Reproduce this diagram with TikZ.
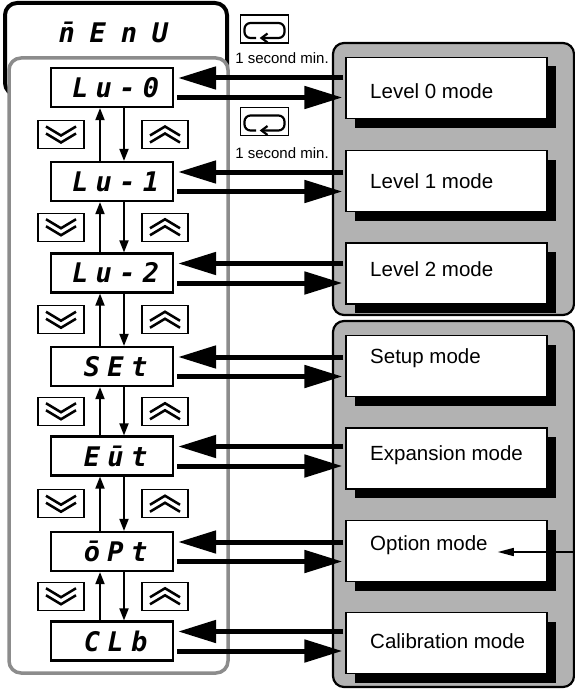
\documentclass[tikz,border=0pt]{standalone}
\usepackage{fontspec}
\setmainfont{Liberation Sans}
\newfontfamily\segfont[LetterSpace=27]{DejaVu Sans Mono}
\newfontfamily\menufont[LetterSpace=55]{DejaVu Sans Mono}
\newcommand\seg[1]{#1\kern-.27em}
\usetikzlibrary{arrows.meta,calc,shadows}

\tikzset{
  display/.style={draw, fill=white, line width=2.2pt, minimum width=122pt, minimum height=39pt, inner sep=0pt,
    font=\fontsize{27}{27}\segfont\bfseries\itshape},
  modebox/.style={draw, fill=white, line width=1.2pt, minimum width=201pt, minimum height=61pt,
    drop shadow={shadow xshift=9pt, shadow yshift=-9pt, fill=black, opacity=1}},
  modetext/.style={anchor=base west, inner sep=0pt, font=\fontsize{20.5}{24}\selectfont},
  keybox/.style={draw, fill=white, line width=1.4pt, minimum width=46pt, minimum height=28pt, inner sep=0pt},
  bigarrow/.style={line width=5pt, -{Triangle[length=38pt,width=22pt]}},
  updown/.style={line width=1.8pt, -{Triangle[length=12pt,width=9pt]}},
  panel/.style={draw, line width=2.2pt, fill=black!30, rounded corners=11pt},
  dnchev/.pic={\draw[line width=2.5pt] (-15,-8) -- (0,1) -- (15,-8) (-15,-1) -- (0,8) -- (15,-1);},
  upchev/.pic={\draw[line width=2.5pt] (-15,8) -- (0,-1) -- (15,8) (-15,1) -- (0,-8) -- (15,1);},
  loopkey/.pic={
    \draw[line width=2.2pt, rounded corners=6pt] (-8.5,9) -- (-20,9) -- (-20,-6) -- (20,-6) -- (20,9) -- (-3,9);
    \draw[line width=2.2pt] (3,4.5) -- (-3,9) -- (3,13.5);},
}

\begin{document}
\begin{tikzpicture}[x=1pt,y=-1pt]
  \useasboundingbox (0,0) rectangle (575,690);

  % menu frame on the left
  \draw[line width=4pt, rounded corners=12pt] (5,3) rectangle (227,95);
  \node[font=\fontsize{27}{28}\menufont\bfseries\itshape] (menu) at (106,32)
    {\accent"AF nEnU\kern-.55em};
  \draw[line width=3.5pt, draw=black!45, fill=white, rounded corners=12pt] (9,58) rectangle (228,673);

  % shaded groups on the right
  \draw[panel] (333,43) rectangle (574,315);
  \draw[panel] (333,321) rectangle (574,687);

  % displays
  \node[display] (d0) at (112,87.5) {\seg{Lu-0}};
  \node[display] (d1) at (112,181.5) {\seg{Lu-1}};
  \node[display] (d2) at (112,273) {\seg{Lu-2}};
  \node[display] (d3) at (112,366.5) {\seg{SEt}};
  \node[display] (d4) at (112,456) {\seg{Eūt}};
  \node[display] (d5) at (112,551.5) {\seg{ōPt}};
  \node[display] (d6) at (112,641) {\seg{CLb}};

  % modes
  \node[modebox] (m0) at (446.5,88) {};
  \node[modebox] (m1) at (446.5,181) {};
  \node[modebox] (m2) at (446.5,273.5) {};
  \node[modebox] (m3) at (446.5,366) {};
  \node[modebox] (m4) at (446.5,458.5) {};
  \node[modebox] (m5) at (446.5,551) {};
  \node[modebox] (m6) at (446.5,643) {};
  \node[modetext] (t0) at (370,99) {Level 0 mode};
  \node[modetext] (t1) at (370,188.5) {Level 1 mode};
  \node[modetext] (t2) at (370,276) {Level 2 mode};
  \node[modetext] (t3) at (370,363) {Setup mode};
  \node[modetext] (t4) at (370,460.5) {Expansion mode};
  \node[modetext] (t5) at (370,550) {Option mode};
  \node[modetext] (t6) at (370,648.5) {Calibration mode};

  % keys between the displays
  \foreach \i in {0,...,5}{
    \pgfmathtruncatemacro\j{\i+1}
    \node[keybox, xshift=-51pt] (dn\i) at ($(d\i.south)!.5!(d\j.north)$) {};
    \node[keybox, xshift=53pt] (up\i) at ($(d\i.south)!.5!(d\j.north)$) {};
    \pic at (dn\i) {dnchev};
    \pic at (up\i) {upchev};
    \draw[updown] ([xshift=-12pt]d\j.north) -- ([xshift=-12pt]d\i.south);
    \draw[updown] ([xshift=12pt]d\i.south) -- ([xshift=12pt]d\j.north);
  }

  % arrows to and from the modes
  \foreach \i in {0,...,6}{
    \draw[bigarrow, shorten <=2pt, shorten >=4pt] ($(d\i.east -| m\i.west)+(0,-9.5)$) -- ($(d\i.east)+(0,-9.5)$);
    \draw[bigarrow, shorten <=3pt, shorten >=3pt] ($(d\i.east)+(0,10)$) -- ($(d\i.east -| m\i.west)+(0,10)$);
  }

  % hold keys
  \node[keybox, minimum width=48pt] (hold0) at (264.5,29) {};
  \pic at (hold0) {loopkey};
  \node[font=\fontsize{15}{15}\selectfont, inner sep=1pt] (sec0) at (282,58) {1 second min.};
  \node[keybox, minimum width=48pt] (hold1) at (264.5,121.5) {};
  \pic at (hold1) {loopkey};
  \node[font=\fontsize{15}{15}\selectfont, inner sep=1pt] (sec1) at (282,153) {1 second min.};

  % entry into option mode
  \coordinate (optin) at (575,552);
  \draw[line width=1.5pt, -{Triangle[length=16pt,width=8pt]}, shorten >=10pt] (optin) -- (optin -| t5.east);
\end{tikzpicture}
\end{document}
